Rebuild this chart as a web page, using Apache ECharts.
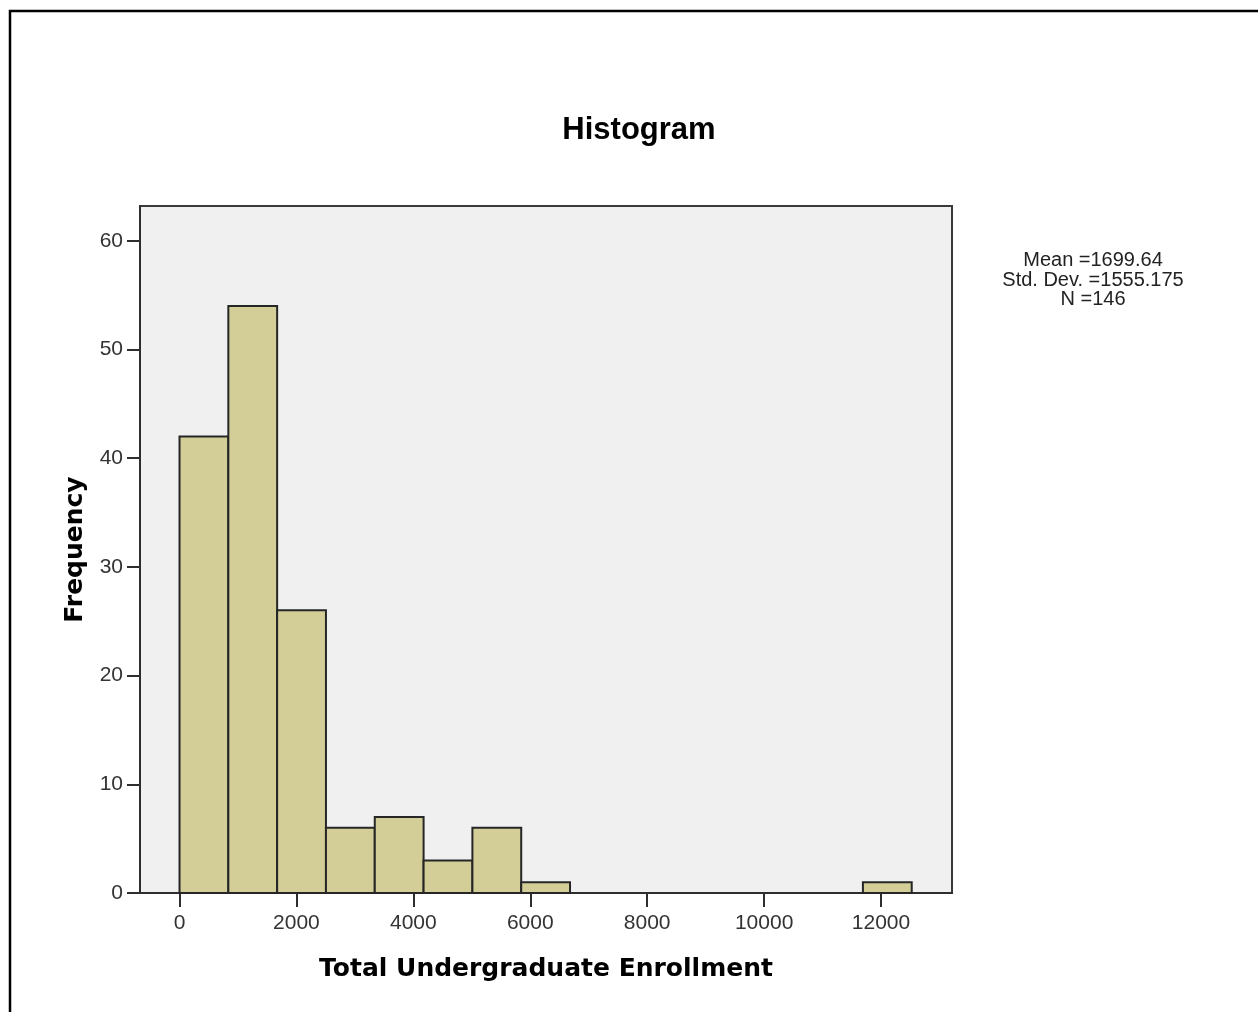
<!DOCTYPE html>
<html>
<head>
<meta charset="utf-8">
<script src="https://cdn.jsdelivr.net/npm/echarts@6/dist/echarts.min.js"></script>
<style>html,body{margin:0;padding:0;background:#fff}#c{width:1258px;height:1012px}</style>
</head>
<body>
<div id="c"></div>
<script>
// Histogram bins (lower edge) and frequencies
const binStarts = [0, 835, 1670, 2505, 3340, 4175, 5010, 5845, 6680, 7515, 8350, 9185, 10020, 10855, 11690];
const binWidth = 835;
const counts = [42, 54, 26, 6, 7, 3, 6, 1, 0, 0, 0, 0, 0, 0, 1];
const xTicks = [0, 2000, 4000, 6000, 8000, 10000, 12000];
const yTicks = [0, 10, 20, 30, 40, 50, 60];
const statsLines = ['Mean =1699.64', 'Std. Dev. =1555.175', 'N =146'];

const bars = binStarts.map((s, i) => [s, s + binWidth, counts[i]]).filter(d => d[2] > 0);

const chart = echarts.init(document.getElementById('c'), null, {renderer: 'canvas'});
chart.setOption({
  animation: false,
  backgroundColor: '#ffffff',
  title: {
    text: 'Histogram', left: 634, top: 110, textAlign: 'center',
    textStyle: {fontFamily: 'Liberation Sans', fontWeight: 'bold', fontSize: 31, color: '#000'}
  },
  grid: {
    left: 140, top: 206, width: 812, height: 687,
    show: true, backgroundColor: '#f0f0f0', borderColor: '#3a3a3a', borderWidth: 2
  },
  xAxis: {
    type: 'value', min: -676, max: 13214,
    name: 'Total Undergraduate Enrollment', nameLocation: 'middle', nameGap: 64,
    nameTextStyle: {fontFamily: 'DejaVu Sans', fontWeight: 'bold', fontSize: 25, color: '#000'},
    axisLine: {show: true, onZero: false, lineStyle: {color: '#2e2e2e', width: 2}},
    axisTick: {show: true, length: 14, customValues: xTicks, lineStyle: {color: '#2e2e2e', width: 2}},
    axisLabel: {customValues: xTicks, margin: 20, fontFamily: 'Liberation Sans', fontSize: 21, color: '#333',
      formatter: v => String(v)},
    splitLine: {show: false}
  },
  yAxis: {
    type: 'value', min: 0, max: 63.2,
    name: 'Frequency', nameLocation: 'middle', nameGap: 52,
    nameTextStyle: {fontFamily: 'DejaVu Sans', fontWeight: 'bold', fontSize: 25, color: '#000'},
    axisLine: {show: true, onZero: false, lineStyle: {color: '#2e2e2e', width: 2}},
    axisTick: {show: true, length: 13, customValues: yTicks, lineStyle: {color: '#2e2e2e', width: 2}},
    axisLabel: {customValues: yTicks, margin: 17, fontFamily: 'Liberation Sans', fontSize: 21, color: '#333',
      formatter: v => String(v)},
    splitLine: {show: false}
  },
  series: [{
    type: 'custom',
    data: bars,
    encode: {x: [0, 1], y: 2},
    renderItem: function (params, api) {
      const p1 = api.coord([api.value(0), api.value(2)]);
      const p2 = api.coord([api.value(1), 0]);
      return {
        type: 'rect',
        shape: {x: p1[0], y: p1[1], width: p2[0] - p1[0], height: p2[1] - p1[1]},
        style: {fill: '#d3ce98', stroke: '#262626', lineWidth: 2}
      };
    }
  }],
  graphic: [
    {
      type: 'rect', silent: true,
      shape: {x: 10, y: 11, width: 1400, height: 1200},
      style: {fill: null, stroke: '#000', lineWidth: 2.5}
    },
    {
      type: 'text', x: 1093, y: 251,
      style: {
        text: statsLines.join('\n'), align: 'center', verticalAlign: 'top',
        font: '20px "Liberation Sans"', lineHeight: 19.5, fill: '#222'
      }
    }
  ]
});
</script>
</body>
</html>
